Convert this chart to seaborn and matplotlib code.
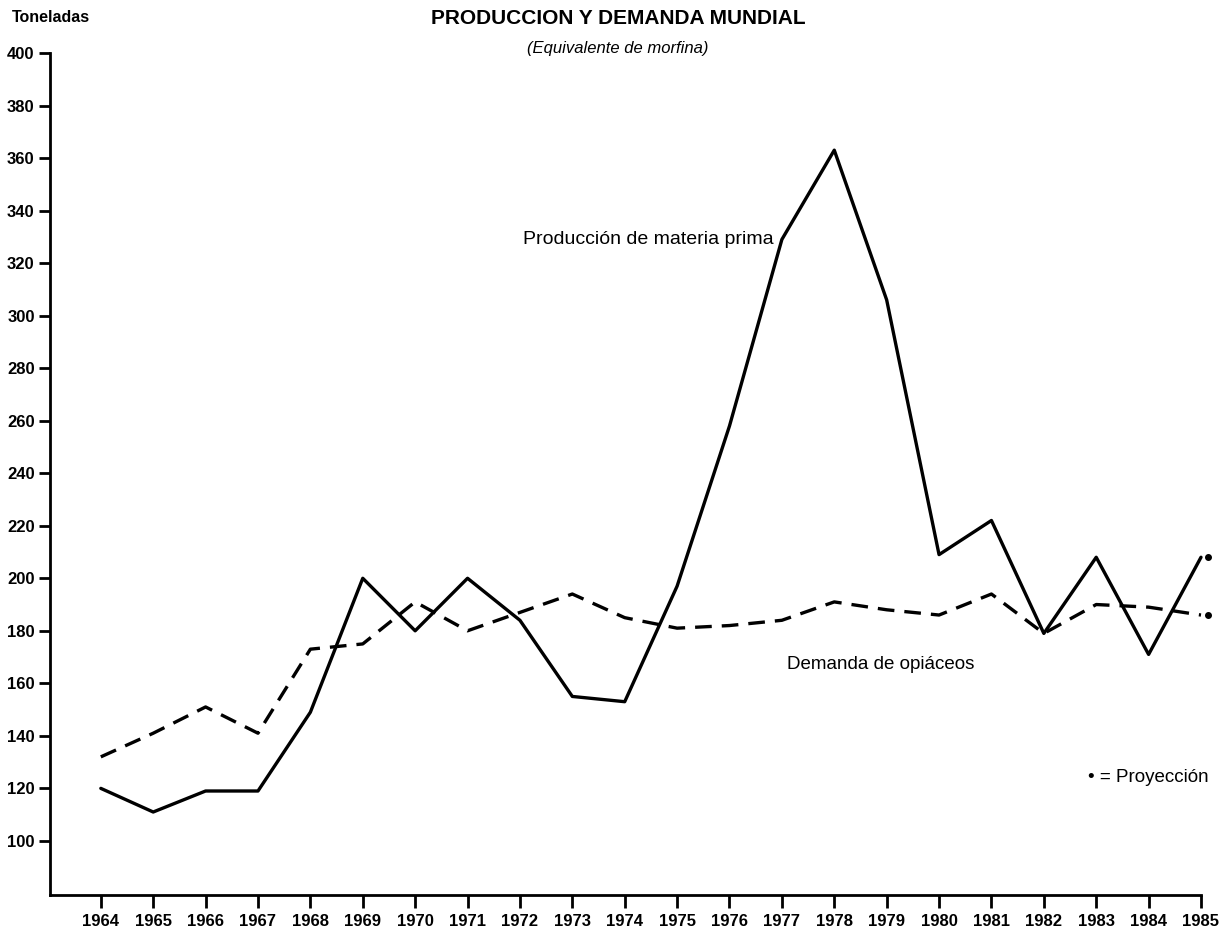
import matplotlib
matplotlib.use("Agg")
import matplotlib.pyplot as plt
import matplotlib.transforms as mtransforms
import seaborn as sns
import pandas as pd

years = list(range(1964, 1986))
produccion = [120, 111, 119, 119, 149, 200, 180, 200, 184, 155, 153, 197,
              258, 329, 363, 306, 209, 222, 179, 208, 171, 208]
demanda = [132, 141, 151, 141, 173, 175, 191, 180, 187, 194, 185, 181,
           182, 184, 191, 188, 186, 194, 179, 190, 189, 186]
y_ticks = list(range(100, 401, 20))

sns.set_style("white")
plt.rcParams['font.family'] = ['Liberation Sans', 'DejaVu Sans']
plt.rcParams['text.color'] = 'black'
plt.rcParams['xtick.color'] = 'black'
plt.rcParams['ytick.color'] = 'black'

df = pd.DataFrame({"year": years, "prod": produccion, "dem": demanda})

fig = plt.figure(figsize=(12.24, 9.34), dpi=100)
ax = fig.add_axes([50 / 1224, 39 / 934, (1201 - 50) / 1224, (895 - 53) / 934])

sns.lineplot(data=df, x="year", y="prod", ax=ax, color="black", lw=2.4)
sns.lineplot(data=df, x="year", y="dem", ax=ax, color="black", lw=2.4,
             linestyle=(0, (5, 3)))
for ln in ax.lines:
    ln.set_clip_on(False)

# projection dots (slightly right of the last point, as in the original)
dot_tr = mtransforms.offset_copy(ax.transData, fig=fig, x=7, y=0, units="dots")
ax.scatter([years[-1], years[-1]], [produccion[-1], demanda[-1]], s=16,
           color="black", clip_on=False, zorder=5, transform=dot_tr)

ax.set_xlim(1963.03, 1985)
ax.set_ylim(79.4, 400)
ax.set_xticks(years)
ax.set_xticklabels([str(y) for y in years], fontweight="bold", fontsize=12)
ax.set_yticks(y_ticks)
ax.set_yticklabels([str(v) for v in y_ticks], fontweight="bold", fontsize=12)
ax.set_xlabel("")
ax.set_ylabel("")

for s in ["top", "right"]:
    ax.spines[s].set_visible(False)
for s in ["left", "bottom"]:
    ax.spines[s].set_linewidth(2)
    ax.spines[s].set_color("black")
ax.tick_params(axis="x", direction="out", length=9, width=2, pad=5, bottom=True)
ax.tick_params(axis="y", direction="out", length=8, width=2, pad=3, left=True)

ax.text(1976.85, 329, "Producción de materia prima", fontsize=14, ha="right",
        va="center")
ax.text(1978.89, 167, "Demanda de opiáceos", fontsize=13.5, ha="center",
        va="center")
fig.text(1088 / 1224, 1 - 777 / 934, "• = Proyección", fontsize=13.5,
         ha="left", va="center")

fig.text(618 / 1224, 1 - 18 / 934, "PRODUCCION Y DEMANDA MUNDIAL",
         fontsize=15, fontweight="bold", ha="center", va="center")
fig.text(618 / 1224, 1 - 48 / 934, "(Equivalente de morfina)",
         fontsize=12, fontstyle="italic", ha="center", va="center")
fig.text(12 / 1224, 1 - 18 / 934, "Toneladas", fontsize=11.5,
         fontweight="bold", ha="left", va="center")

fig.savefig("out.png", dpi=100, facecolor="white")
